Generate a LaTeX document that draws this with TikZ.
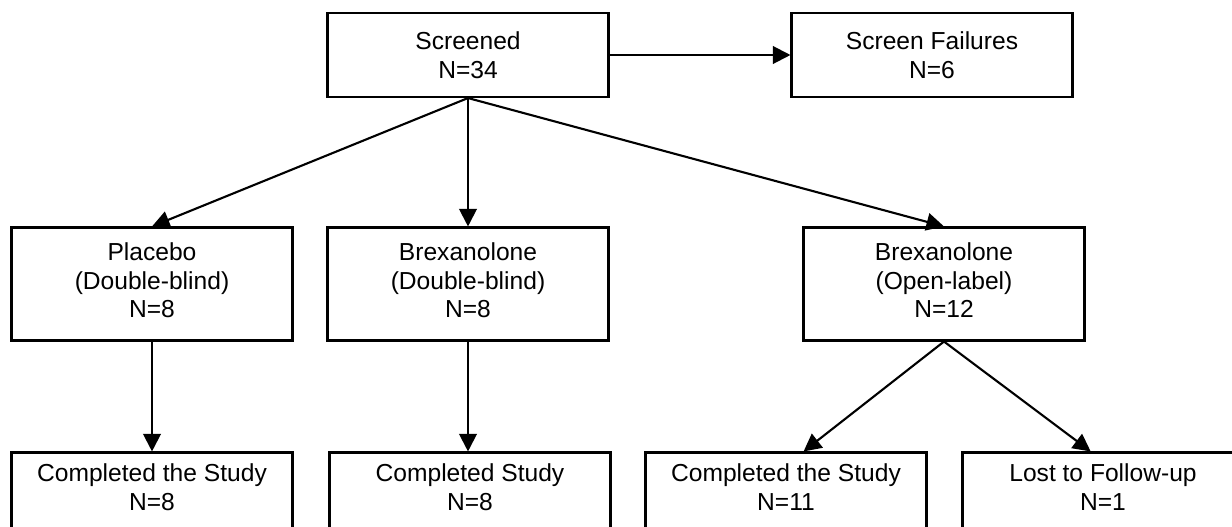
\documentclass[tikz,border=0pt]{standalone}
\usepackage{fontspec}
\setmainfont{Liberation Sans}
\usepackage{tikz}
\usetikzlibrary{arrows.meta}

\begin{document}
\begin{tikzpicture}[x=0.02cm, y=-0.02cm, line width=1.2pt, >={Triangle[length=10pt,width=10pt]},
  main/.style = {draw, rectangle, align=center, inner sep=0pt, minimum width=5.62cm, minimum height=2.26cm, font=\fontsize{14}{16.2}\selectfont},
  top/.style = {main, minimum height=1.68cm}]
\useasboundingbox (0,0) rectangle (1232,527);
\node[top] (scr) at (468,55) {Screened\\N=34};
\node[top] (sf) at (932,55) {Screen Failures\\N=6};
\node[main] (pla) at (152,284) {Placebo\\(Double-blind)\\N=8\\[-12pt]\mbox{}};
\node[main] (bdb) at (468,284) {Brexanolone\\(Double-blind)\\N=8\\[-12pt]\mbox{}};
\node[main] (bol) at (944,284) {Brexanolone\\(Open-label)\\N=12\\[-12pt]\mbox{}};
\node[main] (c1) at (152,509) {Completed the Study\\N=8\\[9pt]\mbox{}};
\node[main] (c2) at (470,509) {Completed Study\\N=8\\[9pt]\mbox{}};
\node[main] (c3) at (786,509) {Completed the Study\\N=11\\[9pt]\mbox{}};
\node[main] (lost) at (1103,509) {Lost to Follow-up\\N=1\\[9pt]\mbox{}};
\draw[->] (scr) -- (sf);
\draw[->] (scr.south) -- (pla.north);
\draw[->] (scr.south) -- (bdb.north);
\draw[->] (scr.south) -- (bol.north);
\draw[->] (pla) -- (c1);
\draw[->] (bdb.south) -- (bdb.south |- c2.north);
\draw[->] (bol.south) -- ([xshift=10]c3.north);
\draw[->] (bol.south) -- ([xshift=-7]lost.north);
\end{tikzpicture}
\end{document}
